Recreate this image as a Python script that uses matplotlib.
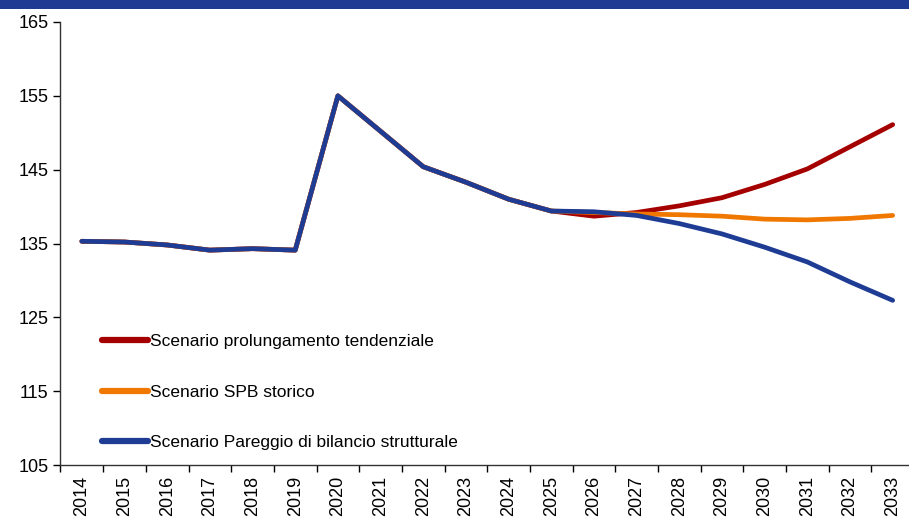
import numpy as np
import matplotlib
matplotlib.use("Agg")
import matplotlib.pyplot as plt
from matplotlib.patches import Rectangle

plt.rcParams['font.family'] = ['Liberation Sans', 'DejaVu Sans']

# ==============================
# Data
# ==============================

years = [str(y) for y in range(2014, 2034)]

tendenziale = [135.3, 135.2, 134.8, 134.1, 134.3, 134.1, 155.0, 150.2, 145.4, 143.3,
               141.0, 139.4, 138.7, 139.2, 140.1, 141.2, 143.0, 145.1, 148.1, 151.1]
spb_storico = [135.3, 135.2, 134.8, 134.1, 134.3, 134.1, 155.0, 150.2, 145.4, 143.3,
               141.0, 139.4, 139.2, 139.0, 138.9, 138.7, 138.3, 138.2, 138.4, 138.8]
pareggio = [135.3, 135.2, 134.8, 134.1, 134.3, 134.1, 155.0, 150.2, 145.4, 143.3,
            141.0, 139.4, 139.3, 138.8, 137.7, 136.3, 134.5, 132.5, 129.8, 127.3]

labels = ["Scenario prolungamento tendenziale",
          "Scenario SPB storico",
          "Scenario Pareggio di bilancio strutturale"]
colors = ["#A50000", "#F07800", "#1F3C94"]

# ==============================
# Plot
# ==============================

fig = plt.figure(figsize=(9.09, 5.17), dpi=100)
ax = fig.add_axes([60.5 / 909, 52 / 517, 853.5 / 909, 443 / 517])

# header band
fig.patches.append(Rectangle((0, 1 - 9 / 517), 1, 9 / 517, transform=fig.transFigure,
                             facecolor="#1F3A93", edgecolor="none", zorder=0))

x = np.arange(len(years))
for series, label, color in zip([tendenziale, spb_storico, pareggio], labels, colors):
    ax.plot(x, series, color=color, lw=3.4, label=label, solid_capstyle="round",
            solid_joinstyle="round")

ax.set_ylim(105, 165)
ax.set_yticks(np.arange(105, 166, 10))
ax.set_xlim(-0.5, len(years) - 0.5)

ax.set_xticks(x)
ax.set_xticklabels(years, rotation=90)
ax.set_xticks(np.arange(-0.5, len(years)), minor=True)
ax.tick_params(axis="x", which="major", length=0, pad=8, labelsize=13)
ax.tick_params(axis="x", which="minor", length=5, width=1, direction="out")
ax.tick_params(axis="y", length=5, width=1, direction="out", labelsize=13)

for side in ["top", "right"]:
    ax.spines[side].set_visible(False)
for side in ["left", "bottom"]:
    ax.spines[side].set_linewidth(1)
    ax.spines[side].set_color("#333333")

leg = ax.legend(loc="upper left", bbox_to_anchor=(0.041, 0.312), frameon=False,
                fontsize=12.5, handlelength=2.6, handletextpad=0.12,
                labelspacing=2.05, borderaxespad=0)
for line in leg.get_lines():
    line.set_linewidth(4.5)

fig.savefig("out.png", dpi=100)
